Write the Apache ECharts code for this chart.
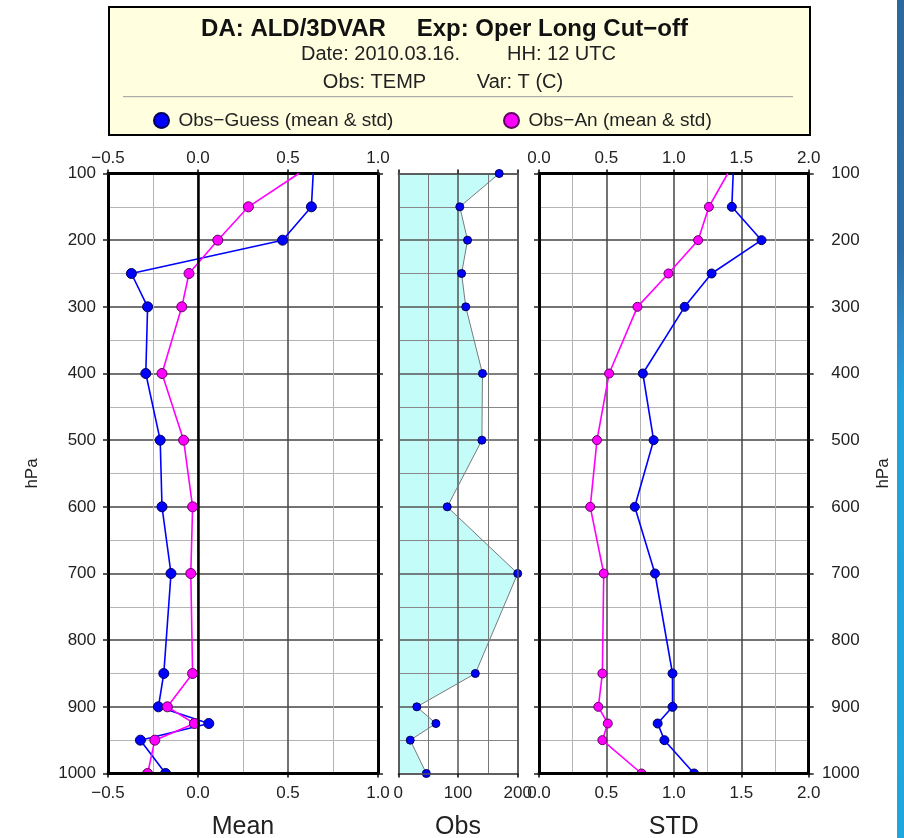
<!DOCTYPE html>
<html>
<head>
<meta charset="utf-8">
<script src="https://cdn.jsdelivr.net/npm/echarts@6/dist/echarts.min.js"></script>
<style>
html,body{margin:0;padding:0;background:#fff;}
#chart{width:904px;height:838px;}
</style>
</head>
<body>
<div id="chart"></div>
<script>
// ---------- data ----------
const levels     = [100, 150, 200, 250, 300, 400, 500, 600, 700, 850, 900, 925, 950, 1000];
const meanGuess  = [0.64, 0.63, 0.47, -0.37, -0.28, -0.29, -0.21, -0.20, -0.15, -0.19, -0.22, 0.06, -0.32, -0.18];
const meanAn     = [0.56, 0.28, 0.11, -0.05, -0.09, -0.20, -0.08, -0.03, -0.04, -0.03, -0.17, -0.02, -0.24, -0.28];
const obsCount   = [169, 103, 116, 106, 113, 141, 140, 82, 200, 129, 31, 63, 20, 47];
const stdGuess   = [1.44, 1.43, 1.65, 1.28, 1.08, 0.77, 0.85, 0.71, 0.86, 0.99, 0.99, 0.88, 0.93, 1.15];
const stdAn      = [1.40, 1.26, 1.18, 0.96, 0.73, 0.52, 0.43, 0.38, 0.48, 0.47, 0.44, 0.51, 0.47, 0.76];

const pressureTicks = [100, 200, 300, 400, 500, 600, 700, 800, 900, 1000];
const meanTicks = [-0.5, 0.0, 0.5, 1.0];
const obsTicks  = [0, 100, 200];
const stdTicks  = [0.0, 0.5, 1.0, 1.5, 2.0];

const guessName = 'Obs\u2212Guess (mean & std)';
const anName    = 'Obs\u2212An (mean & std)';
const panelNames = ['Mean', 'Obs', 'STD'];

// ---------- helpers ----------
const FONT = '"Liberation Sans", Arial, Helvetica, sans-serif';
const BLUE = '#0000ff', MAG = '#ff00ff';
const lbl = {fontFamily: FONT, fontSize: 17, color: '#222'};
const pairs = (xs) => xs.map((v, i) => [v, levels[i]]);
const fmt1 = (v) => (v < 0 ? '\u2212' : '') + Math.abs(v).toFixed(1);
const fmt0 = (v) => String(Math.round(v));

const pMin = pressureTicks[0], pMax = pressureTicks[pressureTicks.length - 1];
const pInt = pressureTicks[1] - pressureTicks[0];

function xAxes(gi, ticks, fmt, showTopLabels, name, framed) {
  const min = ticks[0], max = ticks[ticks.length - 1], interval = ticks[1] - ticks[0];
  const frame = framed ? {color: '#000', width: 3} : {color: '#555', width: 1.5};
  return [
    { gridIndex: gi, type: 'value', position: 'bottom', min, max, interval, z: 60,
      name, nameLocation: 'middle', nameGap: 41,
      nameTextStyle: {fontFamily: FONT, fontSize: 25, color: '#222'},
      axisLine: {show: true, onZero: false, lineStyle: frame},
      axisTick: {show: true, length: 4, lineStyle: {color: '#000', width: 1.5}},
      axisLabel: Object.assign({}, lbl, {margin: 11, formatter: fmt, showMinLabel: true, showMaxLabel: true}),
      splitLine: {show: false} },
    { gridIndex: gi, type: 'value', position: 'top', min, max, interval, z: 0,
      axisLine: {show: true, onZero: false, lineStyle: frame},
      axisTick: {show: true, length: 4, lineStyle: {color: '#000', width: 1.5}},
      axisLabel: Object.assign({}, lbl, {show: showTopLabels, margin: 7, formatter: fmt, showMinLabel: true, showMaxLabel: true}),
      splitLine: {show: true, lineStyle: {color: framed ? '#444' : '#555', width: 1.5}},
      minorTick: {show: false, splitNumber: 2},
      minorSplitLine: {show: true, lineStyle: {color: framed ? '#b4b4b4' : '#777', width: 1}} }
  ];
}

function yAxes(gi, mode) {
  const framed = mode !== 'none';
  const frame = framed ? {color: '#000', width: 3} : {color: '#555', width: 1.5};
  const tick = {show: framed, length: 5, lineStyle: {color: '#222', width: 1.5}};
  const base = {gridIndex: gi, type: 'value', inverse: true, min: pMin, max: pMax, interval: pInt};
  const left = Object.assign({}, base, {
    position: 'left', z: 60,
    axisLine: {show: true, onZero: false, lineStyle: frame},
    axisTick: tick,
    axisLabel: Object.assign({}, lbl, {show: mode === 'left', margin: 12, formatter: fmt0, showMinLabel: true, showMaxLabel: true}),
    splitLine: {show: false}
  });
  const right = Object.assign({}, base, {
    position: 'right', z: 60,
    axisLine: {show: true, onZero: false, lineStyle: frame},
    axisTick: tick,
    axisLabel: Object.assign({}, lbl, {show: mode === 'right', margin: 51, align: 'right', formatter: fmt0, showMinLabel: true, showMaxLabel: true}),
    splitLine: {show: false}
  });
  const grid = Object.assign({}, base, {
    position: 'right', z: 0,
    axisLine: {show: false}, axisTick: {show: false}, axisLabel: {show: false},
    splitLine: {show: true, lineStyle: {color: framed ? '#444' : '#555', width: 1.5}},
    minorTick: {show: false, splitNumber: 2},
    minorSplitLine: {show: true, lineStyle: {color: framed ? '#b4b4b4' : '#888', width: 1}}
  });
  if (mode === 'left') {
    Object.assign(left, {name: 'hPa', nameLocation: 'middle', nameGap: 67, nameRotate: 90,
      nameTextStyle: {fontFamily: FONT, fontSize: 17, color: '#222'}});
  }
  if (mode === 'right') {
    Object.assign(right, {name: 'hPa', nameLocation: 'middle', nameGap: 66, nameRotate: 90,
      nameTextStyle: {fontFamily: FONT, fontSize: 17, color: '#222'}});
  }
  return [left, right, grid];
}

function profile(name, values, xi, yi, color, border, size, hideFirst) {
  return {
    type: 'line', name, xAxisIndex: xi, yAxisIndex: yi, data: pairs(values),
    z: 2, clip: false, animation: false,
    symbol: 'circle',
    symbolSize: hideFirst ? (v, p) => (p.dataIndex === 0 ? 0 : size) : size,
    lineStyle: {color, width: 1.6},
    itemStyle: {color, borderColor: border, borderWidth: 1}
  };
}

const chart = echarts.init(document.getElementById('chart'), null, {renderer: 'canvas'});

const option = {
  animation: false,
  backgroundColor: '#ffffff',
  grid: [
    {left: 108, top: 173.5, width: 270, height: 600, outerBoundsMode: 'none', containLabel: false},
    {left: 398.3, top: 173.5, width: 119.4, height: 600, outerBoundsMode: 'none', containLabel: false},
    {left: 539, top: 173.5, width: 269.7, height: 600, outerBoundsMode: 'none', containLabel: false}
  ],
  xAxis: [].concat(
    xAxes(0, meanTicks, fmt1, true, panelNames[0], true),
    xAxes(1, obsTicks, fmt0, false, panelNames[1], false),
    xAxes(2, stdTicks, fmt1, true, panelNames[2], true)
  ),
  yAxis: [].concat(yAxes(0, 'left'), yAxes(1, 'none'), yAxes(2, 'right')),
  legend: [
    {data: [guessName], left: 148, top: 106, icon: 'circle', itemWidth: 24, itemHeight: 15,
     textStyle: {fontFamily: FONT, fontSize: 19, color: '#222'}, selectedMode: false},
    {data: [anName], left: 498, top: 106, icon: 'circle', itemWidth: 24, itemHeight: 15,
     textStyle: {fontFamily: FONT, fontSize: 19, color: '#222'}, selectedMode: false}
  ],
  series: [
    { type: 'custom', name: 'ObsArea', xAxisIndex: 2, yAxisIndex: 3, z: -1, silent: true,
      data: pairs(obsCount),
      encode: {x: 0, y: 1},
      renderItem: function (params, api) {
        if (params.dataIndex !== 0) return null;
        const pts = [api.coord([0, levels[0]])];
        for (let i = 0; i < levels.length; i++) pts.push(api.coord([obsCount[i], levels[i]]));
        pts.push(api.coord([0, levels[levels.length - 1]]));
        return {type: 'polygon', shape: {points: pts}, style: {fill: '#c4fcfa', stroke: null}};
      }
    },
    Object.assign(profile(guessName, meanGuess, 0, 0, BLUE, '#00005a', 10, true), {
      markLine: {silent: true, symbol: 'none', label: {show: false}, animation: false,
        lineStyle: {color: '#000', width: 2.5, type: 'solid'}, data: [{xAxis: 0}]}
    }),
    profile(anName, meanAn, 0, 0, MAG, '#600060', 10, true),
    { type: 'line', name: 'Obs', xAxisIndex: 2, yAxisIndex: 3, data: pairs(obsCount), z: 2, clip: false,
      symbol: 'circle', symbolSize: 8,
      lineStyle: {color: '#7a7a7a', width: 1},
      itemStyle: {color: BLUE, borderColor: '#00005a', borderWidth: 1} },
    profile(guessName, stdGuess, 4, 6, BLUE, '#00005a', 9, true),
    profile(anName, stdAn, 4, 6, MAG, '#600060', 9, true)
  ],
  graphic: [
    {type: 'rect', z: 50, silent: true, shape: {x: 98, y: 775, width: 290, height: 8}, style: {fill: '#fff'}},
    {type: 'rect', z: 50, silent: true, shape: {x: 528, y: 775, width: 292, height: 8}, style: {fill: '#fff'}},
    {type: 'rect', z: 1, silent: true, shape: {x: 109, y: 7, width: 701, height: 128},
     style: {fill: '#ffffe0', stroke: '#000', lineWidth: 2}},
    {type: 'line', z: 2, silent: true, shape: {x1: 123, y1: 96.7, x2: 793, y2: 96.7},
     style: {stroke: '#9a9a9a', lineWidth: 1}},
    {type: 'text', z: 2, x: 293.5, y: 29, style: {text: 'DA: ALD/3DVAR', font: 'bold 24px ' + FONT, fill: '#111', align: 'center', verticalAlign: 'middle'}},
    {type: 'text', z: 2, x: 552.3, y: 29, style: {text: 'Exp: Oper Long Cut\u2212off', font: 'bold 24px ' + FONT, fill: '#111', align: 'center', verticalAlign: 'middle'}},
    {type: 'text', z: 2, x: 380.5, y: 54, style: {text: 'Date: 2010.03.16.', font: '20px ' + FONT, fill: '#222', align: 'center', verticalAlign: 'middle'}},
    {type: 'text', z: 2, x: 561.5, y: 54, style: {text: 'HH: 12 UTC', font: '20px ' + FONT, fill: '#222', align: 'center', verticalAlign: 'middle'}},
    {type: 'text', z: 2, x: 374.5, y: 82, style: {text: 'Obs: TEMP', font: '20px ' + FONT, fill: '#222', align: 'center', verticalAlign: 'middle'}},
    {type: 'text', z: 2, x: 520, y: 82, style: {text: 'Var: T (C)', font: '20px ' + FONT, fill: '#222', align: 'center', verticalAlign: 'middle'}},
    {type: 'rect', z: 1, silent: true, shape: {x: 897, y: 0, width: 7, height: 838},
     style: {fill: new echarts.graphic.LinearGradient(0, 0, 0, 1, [
       {offset: 0, color: '#2a69a0'}, {offset: 0.3, color: '#2c6fa8'},
       {offset: 0.4, color: '#2f8bc9'}, {offset: 0.47, color: '#22a3dc'}, {offset: 1, color: '#20a6de'}])}}
  ]
};

chart.setOption(option);
</script>
</body>
</html>
